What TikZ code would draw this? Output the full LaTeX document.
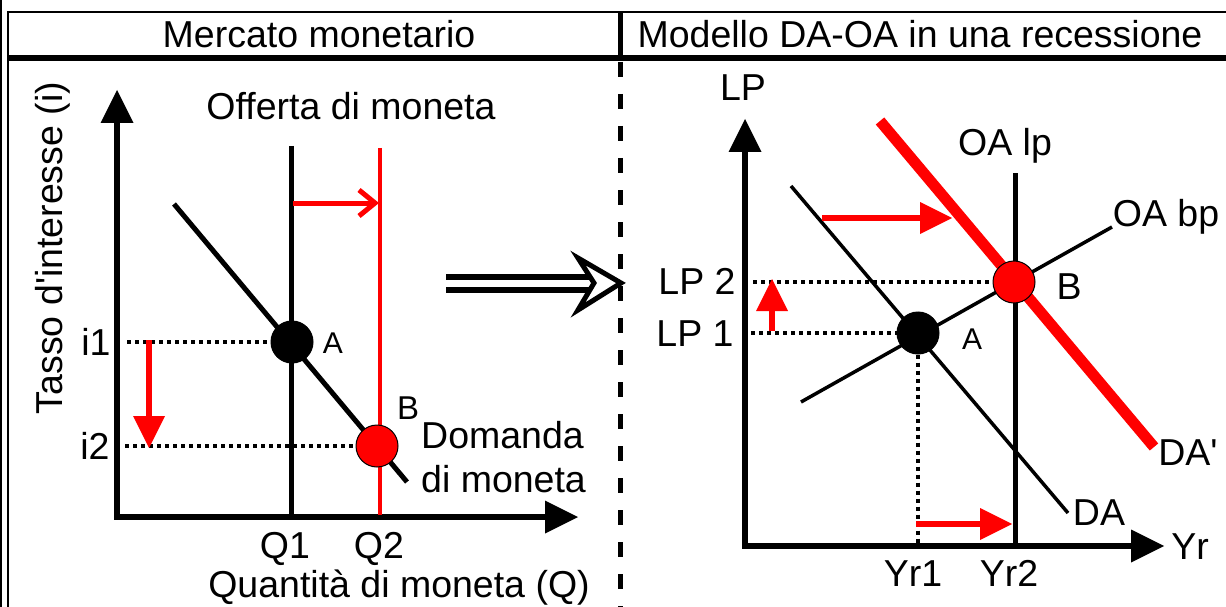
\documentclass[tikz,border=0pt]{standalone}
\usepackage{fontspec}
\setmainfont{Liberation Sans}
\usetikzlibrary{arrows.meta}

\begin{document}
\begin{tikzpicture}[x=1pt,y=-1pt,
        lbl/.style={inner sep=0pt,text height=27pt,text depth=0pt,font=\fontsize{37.5}{44}\selectfont},
        lblsm/.style={lbl,text height=21pt,font=\fontsize{30}{36}\selectfont},
        axis/.style={line width=6pt,{Triangle[length=33pt,width=33pt,line width=0pt]}-{Triangle[length=33pt,width=33pt,line width=0pt]}},
        dots/.style={line width=3.5pt,dash pattern=on 4pt off 4pt},
        redshift/.style={red,line width=6pt,-{Triangle[length=32pt,width=32pt,line width=0pt]}},
        eqpt/.style={shape=circle,draw=black,line width=1pt,minimum size=42pt,inner sep=0pt}]
            \useasboundingbox (0,0) rectangle (1226,607);

            \draw[line width=2.5pt] (1,0) -- (1,607);
            \draw[line width=2.5pt] (1226,12) -- (8,12) -- (8,607);
            \draw[line width=6pt] (8,58) -- (1226,58);
            \draw[line width=5pt] (620,12) -- (620,58);
            \draw[line width=5pt,dash pattern=on 15pt off 17pt] (620,62) -- (620,607);

            \node[lbl] (titleL) at (319,34) {Mercato monetario};
            \node[lbl] (titleR) at (920,34) {Modello DA-OA in una recessione};

            \coordinate (oL) at (117,517);
            \coordinate (yL) at (117,90);
            \coordinate (xL) at (578,517);
            \draw[axis] (yL) -- (oL) -- (xL);
            \node[lbl,rotate=90] (ylabL) at (49,248) {Tasso d\textquotesingle interesse (i)};
            \node[lbl] (xlabL) at (399,584) {Quantità di moneta (Q)};
            \node[lbl] (offerta) at (351,106) {Offerta di moneta};
            \node[inner sep=0pt,font=\fontsize{37.5}{44}\selectfont,anchor=base west,align=left] (domanda) at (421,492) {Domanda\\di moneta};

            \coordinate (s1t) at (291,146);
            \coordinate (s1b) at (291,517);
            \coordinate (s2t) at (380,148);
            \coordinate (s2b) at (380,515);
            \coordinate (dmT) at (174,204);
            \coordinate (dmB) at (407,482);
            \draw[line width=5pt] (s1t) -- (s1b);
            \draw[red,line width=4pt] (s2t) -- (s2b);
            \draw[line width=5pt] (dmT) -- (dmB);

            \node[eqpt,fill=black] (A1) at (292,342) {};
            \node[eqpt,fill=red] (B1) at (377,446) {};
            \node[lblsm] (labA1) at (333,343) {A};
            \node[lbl,font=\fontsize{33}{40}\selectfont,text height=24pt] (labB1) at (408,407) {B};

            \node[lbl] (i1) at (96,342) {i1};
            \node[lbl] (i2) at (95,446) {i2};
            \node[lbl] (Q1) at (285,545) {Q1};
            \node[lbl] (Q2) at (379,545) {Q2};
            \coordinate (i1s) at (127,342);
            \coordinate (i2s) at (125,446);
            \draw[dots] (i1s) -- (A1);
            \draw[dots] (i2s) -- (B1);

            \coordinate (dnS) at (149,340);
            \coordinate (dnE) at (149,448);
            \path[redshift] (dnS) edge (dnE);
            \coordinate (osS) at (293,203);
            \coordinate (osE) at (379,203);
            \path[red,line width=5pt,-{Straight Barb[length=16pt,width=26pt]}] (osS) edge (osE);

            \coordinate (imp1) at (446,277);
            \coordinate (imp2) at (595,277);
            \coordinate (imp3) at (446,290);
            \coordinate (imp4) at (595,290);
            \coordinate (hd1) at (578,258);
            \coordinate (hd2) at (621,283);
            \coordinate (hd3) at (578,310);
            \coordinate (hd4) at (594,283);
            \draw[line width=6pt] (imp1) -- (imp2);
            \draw[line width=6pt] (imp3) -- (imp4);
            \draw[line width=5pt,fill=white,line join=miter] (hd1) -- (hd2) -- (hd3) -- (hd4) -- cycle;

            \coordinate (oR) at (745,546);
            \coordinate (yR) at (745,119);
            \coordinate (xR) at (1164,546);
            \draw[axis] (yR) -- (oR) -- (xR);
            \node[lbl] (LP) at (743,87) {LP};
            \node[lbl] (Yr) at (1190,546) {Yr};

            \coordinate (lpT) at (1015,173);
            \coordinate (lpB) at (1015,546);
            \coordinate (bpL) at (801,402);
            \coordinate (bpR) at (1112,227);
            \coordinate (daT) at (791,186);
            \coordinate (daB) at (1068,513);
            \coordinate (da2T) at (880,121);
            \coordinate (da2B) at (1154,447);
            \draw[line width=5pt] (lpT) -- (lpB);
            \draw[line width=3.5pt] (bpL) -- (bpR);
            \draw[line width=3.5pt] (daT) -- (daB);
            \draw[red,line width=11pt] (da2T) -- (da2B);
            \node[lbl] (OAlp) at (1005,142) {OA lp};
            \node[lbl] (OAbp) at (1166,213) {OA bp};
            \node[lbl] (DA) at (1099,512) {DA};
            \node[lbl] (DA2) at (1188,452) {DA\textquotesingle};

            \node[eqpt,fill=black] (A2) at (918,333) {};
            \node[eqpt,fill=red] (B2) at (1014,282) {};
            \node[lblsm] (labA2) at (972,339) {A};
            \node[lbl] (labB2) at (1069,286) {B};

            \node[lbl] (LP2) at (697,281) {LP 2};
            \node[lbl] (LP1) at (695,333) {LP 1};
            \node[lbl] (Yr1) at (913,573) {Yr1};
            \node[lbl] (Yr2) at (1009,573) {Yr2};
            \coordinate (lp2s) at (753,282);
            \coordinate (lp1s) at (751,333);
            \coordinate (yr1e) at (918,544);
            \draw[dots] (lp2s) -- (B2);
            \draw[dots] (lp1s) -- (A2);
            \draw[dots] (A2) -- (yr1e);

            \coordinate (daS) at (822,218);
            \coordinate (daE) at (952,218);
            \coordinate (upS) at (772,331);
            \coordinate (upE) at (772,279);
            \coordinate (yrS) at (916,524);
            \coordinate (yrE) at (1012,524);
            \path[redshift] (daS) edge (daE);
            \path[redshift] (upS) edge (upE);
            \path[redshift] (yrS) edge (yrE);
        \end{tikzpicture}
\end{document}
